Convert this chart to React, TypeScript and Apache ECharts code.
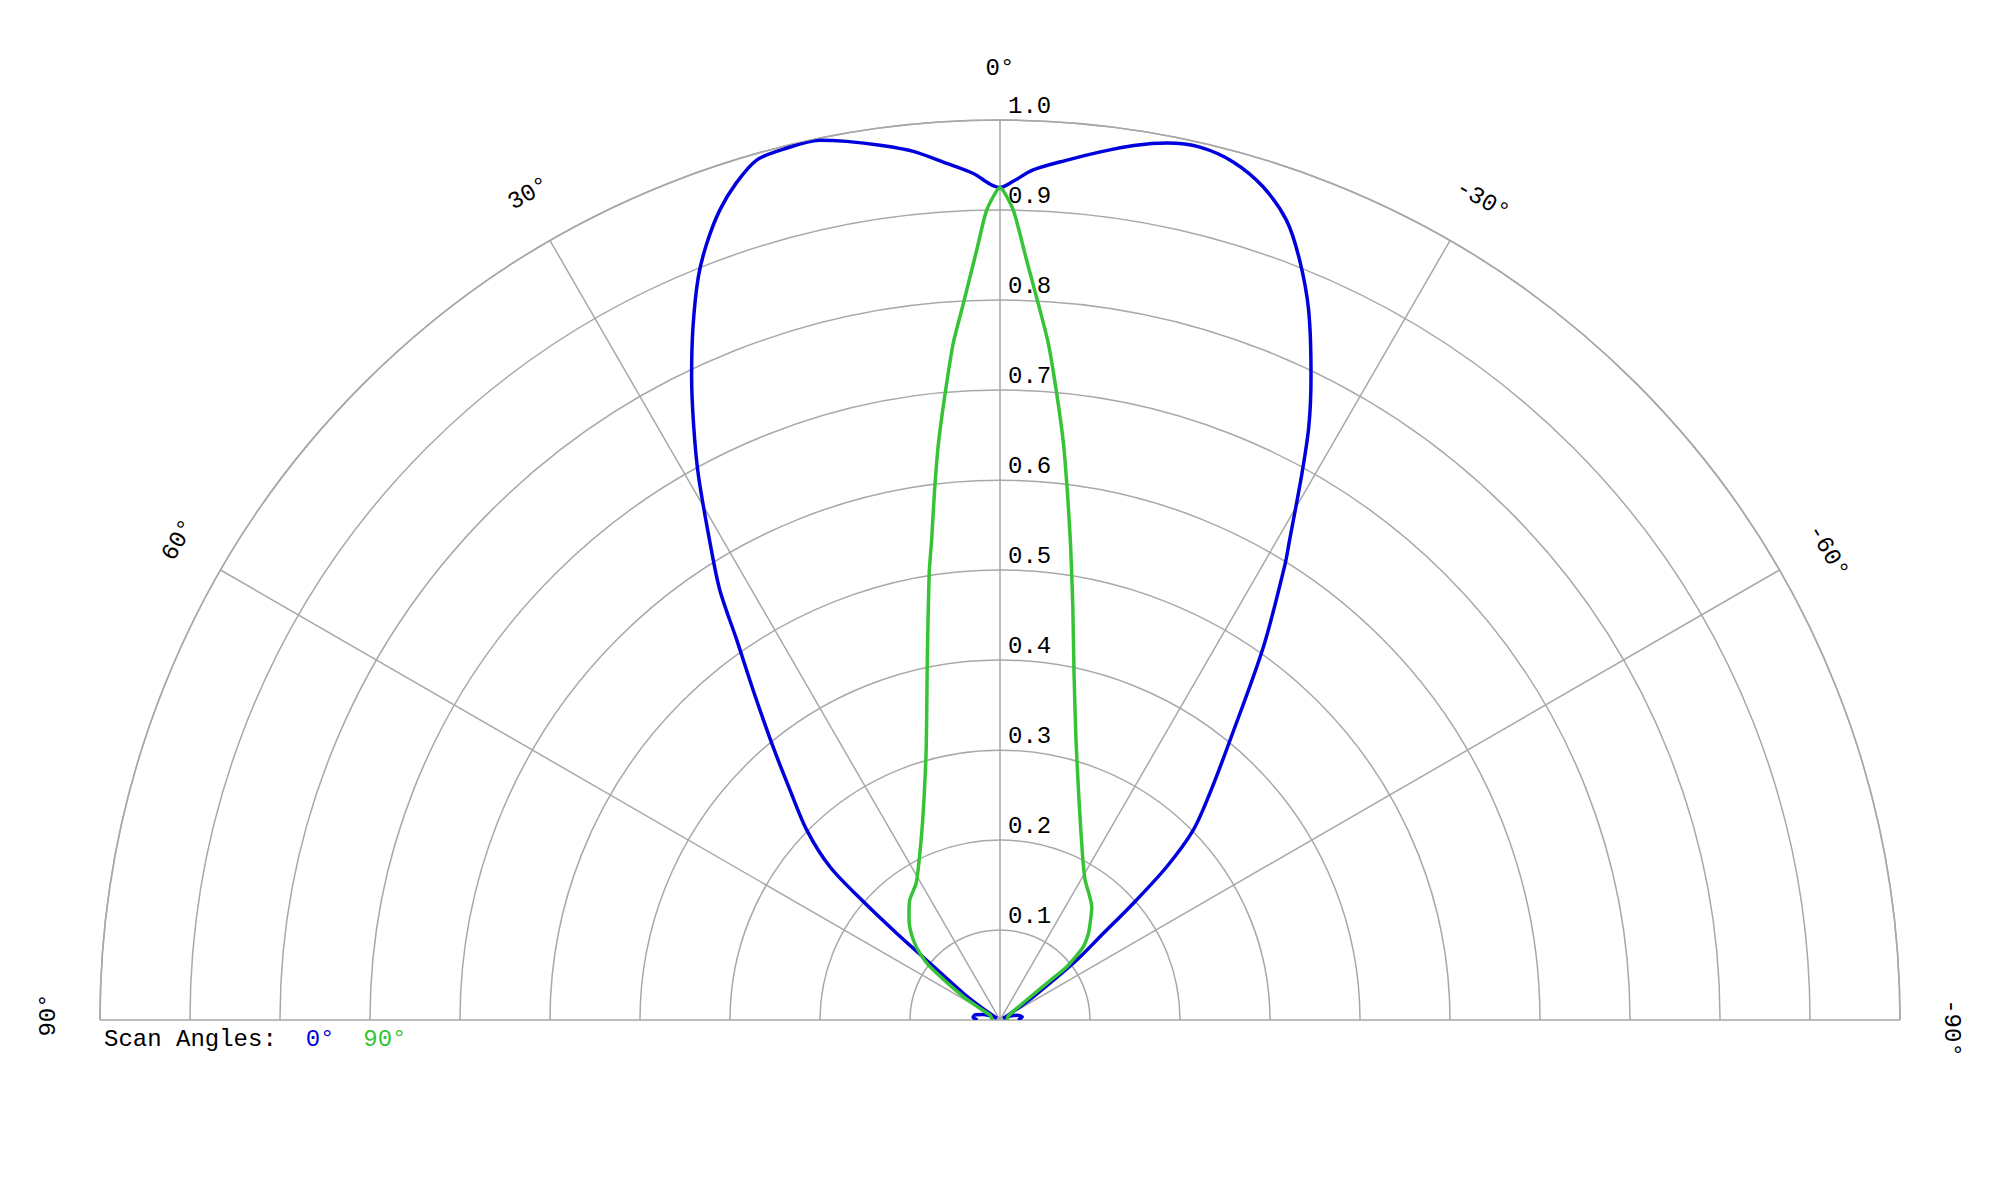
import React, { useEffect, useRef } from "react";
import * as echarts from "echarts";

// Angle grid ticks (degrees) and radius tick labels
const angleTicks = [-90, -60, -30, 0, 30, 60, 90];
const radiusTicks = [0.1, 0.2, 0.3, 0.4, 0.5, 0.6, 0.7, 0.8, 0.9, 1.0];
const radiusTickLabels = ["0.1", "0.2", "0.3", "0.4", "0.5", "0.6", "0.7", "0.8", "0.9", "1.0"];

// Scan angle 0° (blue)
const blueAngles = [
  90, 84, 78, 72, 66, 61, 56, 54, 51, 50, 49.1, 48.0, 45.5, 42.4, 39.7, 36.8, 34.7, 33.1, 31.3,
  29.0, 27.3, 25.6, 23.9, 22.1, 20.7, 19.1, 17.5, 15.8, 14.0, 11.6, 9.9, 7.8, 5.7, 3.6, 1.8, 0.7,
  0, -0.9, -2.2, -4.4, -6.6, -8.7, -10.8, -12.9, -15.2, -17.5, -19.7, -21.5, -23.5, -25.8, -27.5,
  -29.0, -31.1, -32.0, -35.2, -39.4, -42.8, -45.5, -47.4, -48.8, -50.2, -52, -55, -58, -62, -68,
  -75, -82, -90,
];
const blueValues = [
  0.025, 0.03, 0.028, 0.02, 0.01, 0.004, 0.025, 0.05, 0.1, 0.15, 0.201, 0.254, 0.301, 0.346, 0.395,
  0.458, 0.514, 0.57, 0.62, 0.691, 0.742, 0.793, 0.842, 0.891, 0.922, 0.952, 0.975, 0.993, 0.997,
  0.998, 0.991, 0.981, 0.97, 0.954, 0.941, 0.929, 0.925, 0.932, 0.945, 0.958, 0.971, 0.983, 0.992,
  0.995, 0.988, 0.971, 0.944, 0.908, 0.86, 0.794, 0.743, 0.691, 0.623, 0.598, 0.508, 0.403, 0.343,
  0.301, 0.252, 0.197, 0.145, 0.108, 0.045, 0.015, 0.004, 0.012, 0.02, 0.025, 0.02,
];

// Scan angle 90° (green)
const greenAngles = [
  90, 75, 65, 60, 57.6, 52.7, 50.2, 47.3, 43, 40.4, 36.9, 31.6, 28.0, 21.5, 15.3, 11.3, 9.0, 8.1,
  7.1, 6.1, 5.0, 3.95, 2.93, 1.73, 0.94, 0, -0.94, -2.0, -3.06, -4.08, -5.17, -6.27, -7.3, -8.4,
  -10.0, -12.05, -15.2, -20.4, -26.9, -31.3, -35, -39, -45.5, -48.7, -51.4, -51.8, -52.5, -56,
  -65, -90,
];
const greenValues = [
  0.008, 0.01, 0.012, 0.025, 0.048, 0.098, 0.116, 0.131, 0.148, 0.156, 0.167, 0.178, 0.193, 0.235,
  0.311, 0.412, 0.503, 0.539, 0.59, 0.644, 0.699, 0.754, 0.797, 0.856, 0.9, 0.925, 0.9, 0.845, 0.797,
  0.754, 0.699, 0.645, 0.59, 0.536, 0.466, 0.394, 0.322, 0.253, 0.203, 0.182, 0.172, 0.162, 0.138,
  0.123, 0.095, 0.07, 0.047, 0.02, 0.01, 0.008,
];

const FONT = '"Courier New", "Liberation Mono", monospace';
const GRID = "#a8a8a8";
const BLUE = "#0000dd";
const GREEN = "#36c436";

export default function App() {
  const ref = useRef<HTMLDivElement>(null);

  useEffect(() => {
    if (!ref.current) return;
    const chart = echarts.init(ref.current, undefined, { renderer: "svg" });

    chart.setOption({
      animation: false,
      backgroundColor: "#ffffff",
      title: {
        left: 99,
        top: 1022,
        text: "{a|Scan Angles:}  {b|0°}  {c|90°}",
        textStyle: {
          fontFamily: FONT,
          fontSize: 24,
          fontWeight: "normal",
          rich: {
            a: { fontFamily: FONT, fontSize: 24, color: "#000000" },
            b: { fontFamily: FONT, fontSize: 24, color: BLUE },
            c: { fontFamily: FONT, fontSize: 24, color: GREEN },
          },
        },
      },
      polar: { center: [1000, 1020], radius: 900 },
      angleAxis: {
        type: "value",
        min: -90,
        max: 90,
        interval: 30,
        startAngle: 0,
        endAngle: 180,
        clockwise: false,
        axisLine: { show: true, lineStyle: { color: GRID, width: 1.5 } },
        axisTick: { show: false },
        axisLabel: { show: false },
        splitLine: { show: true, lineStyle: { color: GRID, width: 1.5 } },
      },
      radiusAxis: {
        type: "value",
        min: 0,
        max: 1,
        interval: 0.1,
        axisLine: { show: false },
        axisTick: { show: false },
        axisLabel: { show: false },
        splitLine: { show: true, lineStyle: { color: GRID, width: 1.5 } },
      },
      series: [
        {
          name: "0°",
          type: "line",
          coordinateSystem: "polar",
          showSymbol: false,
          smooth: 0.3,
          z: 3,
          lineStyle: { color: BLUE, width: 3.5 },
          data: blueAngles.map((a, i) => [blueValues[i], a]),
        },
        {
          name: "90°",
          type: "line",
          coordinateSystem: "polar",
          showSymbol: false,
          smooth: 0.2,
          z: 4,
          lineStyle: { color: GREEN, width: 3.5 },
          data: greenAngles.map((a, i) => [greenValues[i], a]),
        },
      ],
    });

    const graphics: any[] = [];
    angleTicks.forEach((a) => {
      const p = chart.convertToPixel({ polarIndex: 0 } as any, [1.057, a]) as number[];
      const rad = (a * Math.PI) / 180;
      const shift = a === 0 ? 0 : a < 0 ? 8 : 5;
      graphics.push({
        type: "text",
        x: p[0] + shift * Math.cos(rad),
        y: p[1] - shift * Math.sin(rad),
        rotation: rad,
        style: {
          text: `${a}°`,
          font: `24px ${FONT}`,
          fill: "#000000",
          align: "center",
          verticalAlign: "middle",
        },
      });
    });
    radiusTicks.forEach((r, i) => {
      const p = chart.convertToPixel({ polarIndex: 0 } as any, [r, 0]) as number[];
      graphics.push({
        type: "text",
        x: p[0] + 8,
        y: p[1] - 2,
        style: {
          text: radiusTickLabels[i],
          font: `24px ${FONT}`,
          fill: "#000000",
          align: "left",
          verticalAlign: "bottom",
        },
      });
    });
    chart.setOption({ graphic: graphics });

    return () => chart.dispose();
  }, []);

  return (
    <div
      ref={ref}
      style={{ position: "fixed", left: 0, top: 0, width: 2000, height: 1200, background: "#fff" }}
    />
  );
}
